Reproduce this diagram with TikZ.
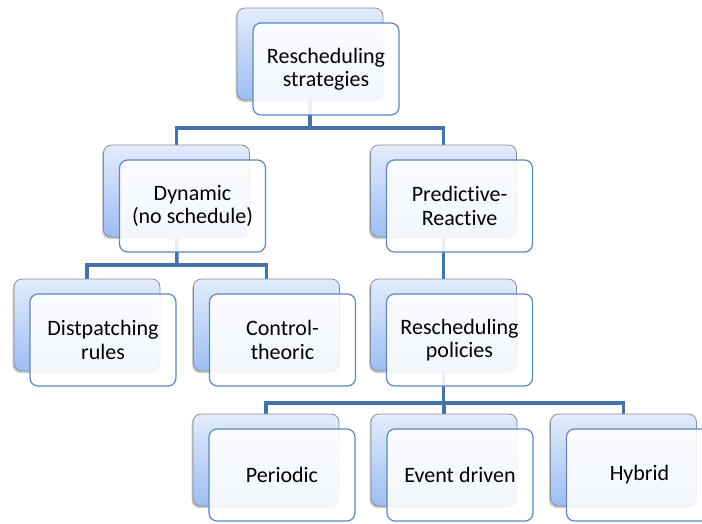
\documentclass[tikz,border=0pt]{standalone}
\usepackage{fontspec}
\setmainfont{Carlito}[Ligatures=NoCommon]
\usetikzlibrary{shadows}
\definecolor{conncol}{HTML}{4472AA}
\definecolor{frontedge}{HTML}{5B87C3}
\definecolor{backtop}{HTML}{E2ECFC}
\definecolor{backbot}{HTML}{9DBDF2}
\definecolor{backedge}{HTML}{8E8E8E}
\tikzset{
  backbox/.style={draw=backedge, line width=0.8pt, rounded corners=8pt,
    top color=backtop, bottom color=backbot, minimum width=146pt, minimum height=92pt,
    inner sep=0pt, drop shadow={shadow xshift=-1.5pt, shadow yshift=-2pt, opacity=0.35, fill=black!60}},
  frontbox/.style={draw=frontedge, line width=1.2pt, rounded corners=8pt,
    fill=white, fill opacity=0.88, text opacity=1, minimum width=146pt, minimum height=92pt,
    inner sep=2pt, align=center, font=\fontsize{22}{23.5}\selectfont},
  conn/.style={draw=conncol, line width=3.5pt},
}
\begin{document}
\begin{tikzpicture}[x=1pt,y=-1pt]
\useasboundingbox (0,0) rectangle (702,523);
% junctions
\coordinate (j1) at (310,128);
\coordinate (j2) at (177,265);
\coordinate (j3) at (443.5,403);
% box positions
\path (310,54) coordinate (p1)
      (176.5,191) coordinate (p2)
      (443.5,191) coordinate (p3)
      (87,325) coordinate (p4)
      (266.5,325) coordinate (p5)
      (443.5,325) coordinate (p6)
      (266,460) coordinate (p7)
      (444,460) coordinate (p8)
      (623.5,460) coordinate (p9);
% connectors
\draw[conn] (p1) -- (j1);
\draw[conn] (j1) -| (p2);
\draw[conn] (j1) -| (p3);
\draw[conn] (p2) -- (j2);
\draw[conn] (j2) -| (p4);
\draw[conn] (j2) -| (p5);
\draw[conn] (p3) -- (p6);
\draw[conn] (p6) -- (j3);
\draw[conn] (j3) -| (p7);
\draw[conn] (j3) -| (p8);
\draw[conn] (j3) -| (p9);
% boxes
\foreach \i in {1,...,9} {
  \node[backbox] (b\i) at (p\i) {};
}
\node[frontbox] (f1) at ([shift={(16,15)}]p1) {Rescheduling\\strategies};
\node[frontbox] (f2) at ([shift={(16,15)}]p2) {Dynamic\\(no schedule)};
\node[frontbox] (f3) at ([shift={(16,15)}]p3) {Predictive-\\Reactive};
\node[frontbox] (f4) at ([shift={(16,15)}]p4) {Distpatching\\rules};
\node[frontbox] (f5) at ([shift={(16,15)}]p5) {Control-\\theoric};
\node[frontbox] (f6) at ([shift={(16,15)}]p6) {Rescheduling\\policies};
\node[frontbox] (f7) at ([shift={(16,15)}]p7) {Periodic};
\node[frontbox] (f8) at ([shift={(16,15)}]p8) {Event driven};
\node[frontbox] (f9) at ([shift={(16,15)}]p9) {Hybrid};
\end{tikzpicture}
\end{document}
